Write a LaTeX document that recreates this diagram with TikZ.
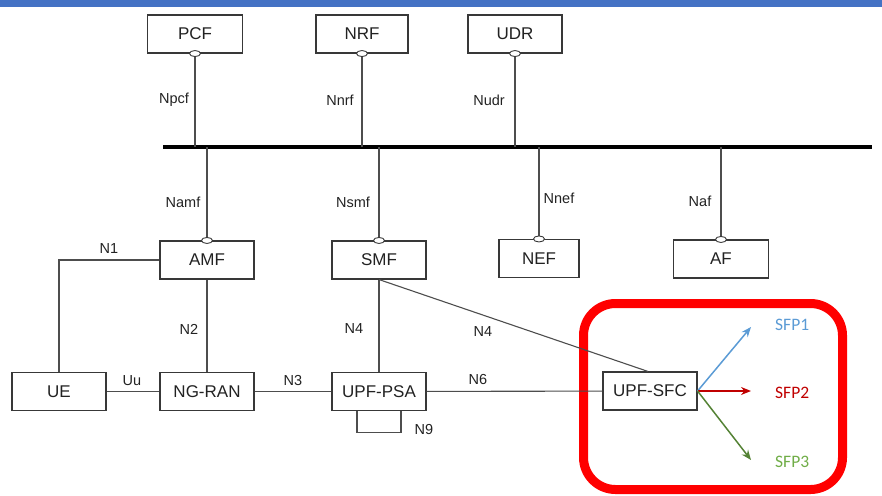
\documentclass[tikz,border=0pt]{standalone}
\usepackage{fontspec}
\setmainfont{Liberation Sans}
\newfontfamily\sfpfont{Carlito}
\usetikzlibrary{shapes.geometric,arrows.meta}
\definecolor{topblue}{HTML}{4472C4}
\definecolor{wire}{HTML}{4D4D4D}
\definecolor{boxline}{HTML}{383838}
\definecolor{inkdark}{HTML}{222222}
\definecolor{sfpblue}{HTML}{5B9BD5}
\definecolor{sfpred}{HTML}{C00000}
\definecolor{sfpgreen}{HTML}{548235}
\definecolor{sfpgreentext}{HTML}{70AD47}
\begin{document}
\begin{tikzpicture}[x=1pt,y=-1pt,
  nf/.style={draw=boxline, line width=1.1pt, fill=white, text=inkdark,
    minimum width=94pt, minimum height=38pt, inner sep=0pt,
    font=\fontsize{17}{18}\selectfont},
  port/.style={ellipse, draw=boxline, line width=0.9pt, fill=white,
    minimum width=11pt, minimum height=6pt, inner sep=0pt},
  ifl/.style={text=inkdark, inner sep=0pt, font=\fontsize{14.5}{16}\selectfont},
  wireline/.style={draw=wire, line width=1.1pt},
  sfparrow/.style={line width=1.5pt, -{Stealth[length=10pt,width=8pt]}},
  sfplabel/.style={anchor=west, inner sep=0pt, font=\sfpfont\fontsize{17.5}{19}\selectfont}]
\useasboundingbox (0,0) rectangle (882,495);
\fill[topblue] (0,0) rectangle (882,7);

% service-based bus
\coordinate (busL) at (163,147);
\coordinate (busR) at (872,147);
\draw[line width=4pt, black] (busL) -- (busR);

% network functions above the bus
\node[nf, minimum width=95pt] (pcf) at (195,34) {PCF};
\node[nf, minimum width=92pt] (nrf) at (362,34) {NRF};
\node[nf] (udr) at (515,34) {UDR};

% network functions below the bus
\node[nf] (amf) at (207,260) {AMF};
\node[nf] (smf) at (379,260) {SMF};
\node[nf, minimum width=80pt] (nef) at (539,258.5) {NEF};
\node[nf, minimum width=95pt] (af) at (721,259) {AF};

% user plane row
\node[nf] (ue) at (59,391.5) {UE};
\node[nf] (ngran) at (207,391.5) {NG-RAN};
\node[nf] (upfpsa) at (379,391.5) {UPF-PSA};

% service chain region
\draw[red, line width=9pt, rounded corners=32pt] (583.5,303.5) rectangle (842.5,489.5);
\node[nf, minimum width=94pt] (upfsfc) at (650,391) {UPF-SFC};

% service interfaces to the bus
\foreach \f in {pcf,nrf,udr} {
  \draw[wireline] (\f.south) -- (\f.south |- busL);
  \node[port] (\f port) at (\f.south) {};
}
\foreach \f in {amf,smf,nef,af} {
  \draw[wireline] (\f.north) -- (\f.north |- busL);
  \node[port] (\f port) at (\f.north) {};
}

% reference points
\draw[wireline] (amf.west) -| (ue.north);
\draw[wireline] (amf) -- (ngran);
\draw[wireline] (ue) -- (ngran);
\draw[wireline] (ngran) -- (upfpsa);
\draw[wireline] (smf) -- (upfpsa);
\draw[wireline] (smf.south) -- ([xshift=-2pt]upfsfc.north);
\draw[wireline] (upfpsa) -- (upfsfc);
\draw[wireline] ([xshift=-22pt]upfpsa.south) -- ++(0,21) -| ([xshift=22pt]upfpsa.south);

% interface labels
\node[ifl] (lnpcf) at (174,100) {Npcf};
\node[ifl] (lnnrf) at (340,100) {Nnrf};
\node[ifl] (lnudr) at (489,100) {Nudr};
\node[ifl] (lnamf) at (183,202) {Namf};
\node[ifl] (lnsmf) at (353,202) {Nsmf};
\node[ifl] (lnnef) at (559,198) {Nnef};
\node[ifl] (lnaf) at (700,201) {Naf};
\node[ifl] (ln1) at (109,249) {N1};
\node[ifl] (ln2) at (189,329) {N2};
\node[ifl] (ln4a) at (354,329) {N4};
\node[ifl] (luu) at (132,381) {Uu};
\node[ifl] (ln3) at (293,381) {N3};
\node[ifl] (ln9) at (424,430) {N9};
\node[ifl] (ln4b) at (483,332) {N4};
\node[ifl] (ln6) at (478,380) {N6};

% service function paths
\coordinate (sfp1end) at (751,327);
\coordinate (sfp2end) at (751,391);
\coordinate (sfp3end) at (751,460);
\draw[sfparrow, sfpblue] (upfsfc.east) -- (sfp1end);
\draw[sfparrow, sfpred] (upfsfc.east) -- (sfp2end);
\draw[sfparrow, sfpgreen] (upfsfc.east) -- (sfp3end);
\node[sfplabel, text=sfpblue] (sfp1) at (775,325) {SFP1};
\node[sfplabel, text=sfpred] (sfp2) at (775,393) {SFP2};
\node[sfplabel, text=sfpgreentext] (sfp3) at (775,462) {SFP3};
\end{tikzpicture}
\end{document}
